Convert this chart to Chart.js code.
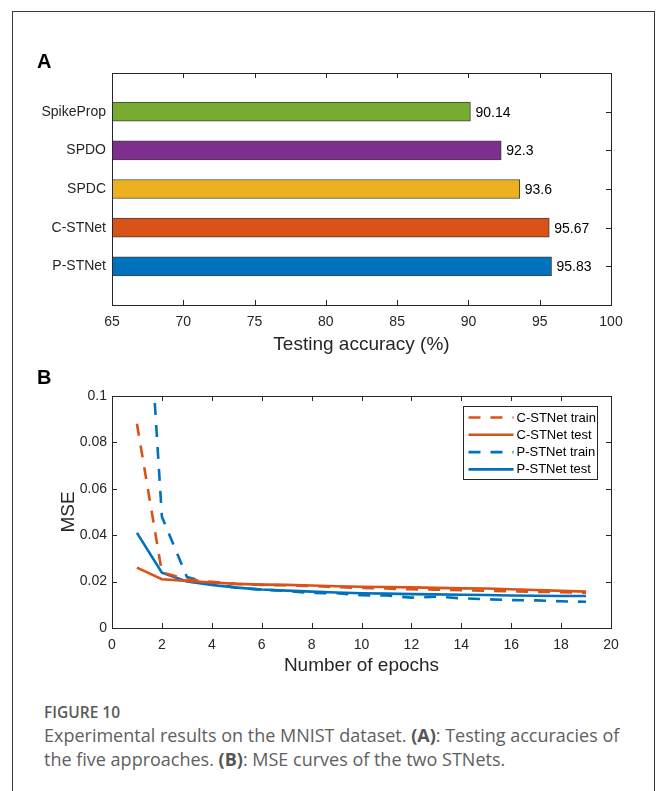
<!DOCTYPE html>
<html>
<head>
<meta charset="utf-8">
<script src="https://cdn.jsdelivr.net/npm/chart.js@4.4.1/dist/chart.umd.min.js"></script>
<style>
  html, body { margin: 0; padding: 0; background: #fff; }
  body { width: 658px; height: 791px; position: relative; overflow: hidden; }
  #frame { position: absolute; left: 12px; top: 11px; width: 643px; height: 800px; border: 1px solid #3a3a3a; box-sizing: border-box; }
  canvas { position: absolute; left: 0; }
  #cA { top: 0; }
  #cB { top: 360px; }
  .panel { position: absolute; left: 37px; font: bold 20px "Liberation Sans", Arial, sans-serif; color: #000; }
  #figno { position: absolute; left: 44px; top: 701px; font: 600 15.5px "Open Sans", sans-serif; color: #5a5a5a; }
  #cap { position: absolute; left: 44px; top: 723px; width: 590px; font: 400 18px/24px "Open Sans", sans-serif; color: #606060; }
  #cap b { font-weight: 700; color: #555; }
</style>
</head>
<body>
<div id="frame"></div>
<canvas id="cA" width="658" height="360"></canvas>
<canvas id="cB" width="658" height="320"></canvas>
<div class="panel" style="top:50px">A</div>
<div class="panel" style="top:366px">B</div>
<div id="figno">FIGURE 10</div>
<div id="cap">Experimental results on the MNIST dataset. <b>(A)</b>: Testing accuracies of the five approaches. <b>(B)</b>: MSE curves of the two STNets.</div>
<script>
// ---- Panel A data ----
const methods = ['SpikeProp', 'SPDO', 'SPDC', 'C-STNet', 'P-STNet'];
const accuracy = [90.14, 92.3, 93.6, 95.67, 95.83];
const methodColors = ['#77AC30', '#7E2F8E', '#EDB120', '#D95319', '#0072BD'];

// ---- Panel B data ----
const epochs = [1, 2, 3, 4, 5, 6, 7, 8, 9, 10, 11, 12, 13, 14, 15, 16, 17, 18, 19];
const cTrain = [0.088, 0.024, 0.021, 0.0199, 0.019, 0.0186, 0.0184, 0.0181, 0.0176, 0.0173, 0.017, 0.0167, 0.0165, 0.0163, 0.016, 0.0158, 0.0156, 0.0154, 0.0152];
const cTest  = [0.026, 0.021, 0.0203, 0.0196, 0.019, 0.0187, 0.0186, 0.0183, 0.018, 0.0178, 0.0177, 0.0175, 0.0173, 0.0171, 0.017, 0.0167, 0.0164, 0.016, 0.0157];
const pTrain = [0.22, 0.048, 0.022, 0.019, 0.0174, 0.0165, 0.016, 0.0151, 0.015, 0.0141, 0.014, 0.0131, 0.0135, 0.0128, 0.0124, 0.012, 0.0119, 0.0115, 0.0113];
const pTest  = [0.041, 0.0238, 0.02, 0.0185, 0.0174, 0.0166, 0.0161, 0.0157, 0.0153, 0.015, 0.0148, 0.0146, 0.0145, 0.0143, 0.0142, 0.014, 0.0139, 0.0138, 0.0138];
const seriesNames = ['C-STNet train', 'C-STNet test', 'P-STNet train', 'P-STNet test'];

const FONT = '"Liberation Sans", Arial, sans-serif';
const AX = '#262626';
const DASH = [12, 10];

// MATLAB-like box with inward ticks
const boxPlugin = {
  id: 'matlabBox',
  beforeDatasetsDraw(chart) {
    const { ctx, chartArea: a } = chart;
    const xs = chart.scales.x, ys = chart.scales.y;
    const L = 5;
    ctx.save();
    ctx.strokeStyle = AX;
    ctx.lineWidth = 1;
    ctx.beginPath();
    xs.ticks.forEach((t, i) => {
      const px = Math.round(xs.getPixelForTick(i)) + 0.5;
      ctx.moveTo(px, a.bottom); ctx.lineTo(px, a.bottom - L);
      ctx.moveTo(px, a.top); ctx.lineTo(px, a.top + L);
    });
    ys.ticks.forEach((t, i) => {
      if (ys.type === 'category' && !chart.data.labels[t.value]) return;
      const py = Math.round(ys.getPixelForTick(i)) + 0.5;
      ctx.moveTo(a.left, py); ctx.lineTo(a.left + L, py);
      ctx.moveTo(a.right, py); ctx.lineTo(a.right - L, py);
    });
    ctx.stroke();
    ctx.restore();
  },
  afterDatasetsDraw(chart) {
    const { ctx, chartArea: a } = chart;
    ctx.save();
    ctx.strokeStyle = AX;
    ctx.lineWidth = 1;
    ctx.strokeRect(Math.round(a.left) + 0.5, Math.round(a.top) + 0.5, Math.round(a.right - a.left), Math.round(a.bottom - a.top));
    ctx.restore();
  }
};

// value labels at bar ends
const valueLabels = {
  id: 'valueLabels',
  afterDatasetsDraw(chart) {
    const { ctx } = chart;
    const meta = chart.getDatasetMeta(0);
    const data = chart.data.datasets[0].data;
    ctx.save();
    ctx.font = '14px ' + FONT;
    ctx.fillStyle = '#000';
    ctx.textAlign = 'left';
    ctx.textBaseline = 'middle';
    meta.data.forEach((el, i) => {
      if (data[i] == null) return;
      ctx.fillText(String(data[i]), el.x + 5, el.y + 1);
    });
    ctx.restore();
  }
};

// legend inside axes (top-right)
const innerLegend = {
  id: 'innerLegend',
  afterDatasetsDraw(chart) {
    const { ctx, chartArea: a } = chart;
    const w = 134, h = 73;
    const x0 = Math.round(a.right - 14 - w) + 0.5, y0 = Math.round(a.top + 10) + 0.5;
    ctx.save();
    ctx.fillStyle = '#fff';
    ctx.fillRect(x0, y0, w, h);
    ctx.strokeStyle = AX;
    ctx.lineWidth = 1;
    ctx.strokeRect(x0, y0, w, h);
    ctx.font = '13px ' + FONT;
    ctx.textBaseline = 'middle';
    ctx.textAlign = 'left';
    chart.data.datasets.forEach((ds, i) => {
      const yy = y0 + 11 + i * 17.3;
      ctx.strokeStyle = ds.borderColor;
      ctx.lineWidth = ds.borderWidth;
      ctx.setLineDash(ds.borderDash || []);
      ctx.beginPath();
      ctx.moveTo(x0 + 5, yy);
      ctx.lineTo(x0 + 50, yy);
      ctx.stroke();
      ctx.setLineDash([]);
      ctx.fillStyle = '#000';
      ctx.fillText(ds.label, x0 + 53, yy + 0.5);
    });
    ctx.restore();
  }
};

// ---- Chart A ----
const labelsA = [''].concat(methods, ['']);
const dataA = [null].concat(accuracy, [null]);
const colorsA = ['#fff'].concat(methodColors, ['#fff']);

new Chart(document.getElementById('cA'), {
  type: 'bar',
  data: {
    labels: labelsA,
    datasets: [{
      data: dataA,
      backgroundColor: colorsA,
      borderColor: 'rgba(30,30,30,0.85)',
      borderWidth: 1,
      borderSkipped: false,
      barThickness: 19
    }]
  },
  options: {
    indexAxis: 'y',
    responsive: false,
    animation: false,
    devicePixelRatio: 1,
    layout: { padding: { left: 0, right: 47, top: 73, bottom: 0 } },
    plugins: { legend: { display: false }, tooltip: { enabled: false } },
    scales: {
      x: {
        type: 'linear', min: 65, max: 100,
        ticks: { stepSize: 5, padding: 9, color: AX, font: { family: FONT, size: 14 } },
        grid: { display: false, drawTicks: false },
        border: { display: false },
        title: { display: true, text: 'Testing accuracy (%)', color: AX, font: { family: FONT, size: 19 }, padding: { top: 0, bottom: 4 } },
        afterFit(s) { s.height = 55; }
      },
      y: {
        type: 'category', offset: false,
        ticks: { autoSkip: false, padding: 6, color: AX, font: { family: FONT, size: 14 } },
        grid: { display: false, drawTicks: false, offset: false },
        border: { display: false },
        afterFit(s) { s.width = 112; }
      }
    }
  },
  plugins: [boxPlugin, valueLabels]
});

// ---- Chart B ----
const ORANGE = '#D95319', BLUE = '#0072BD';
const mk = (label, arr, color, dash) => ({
  label,
  data: epochs.map((e, i) => ({ x: e, y: arr[i] })),
  borderColor: color,
  backgroundColor: color,
  borderWidth: 2.6,
  borderDash: dash,
  pointRadius: 0,
  tension: 0,
  fill: false
});

new Chart(document.getElementById('cB'), {
  type: 'line',
  data: {
    datasets: [
      mk(seriesNames[0], cTrain, ORANGE, DASH),
      mk(seriesNames[1], cTest, ORANGE, []),
      mk(seriesNames[2], pTrain, BLUE, DASH),
      mk(seriesNames[3], pTest, BLUE, [])
    ]
  },
  options: {
    responsive: false,
    animation: false,
    devicePixelRatio: 1,
    layout: { padding: { left: 0, right: 47, top: 36, bottom: 0 } },
    plugins: { legend: { display: false }, tooltip: { enabled: false } },
    scales: {
      x: {
        type: 'linear', min: 0, max: 20,
        ticks: { stepSize: 2, padding: 9, color: AX, font: { family: FONT, size: 14 } },
        grid: { display: false, drawTicks: false },
        border: { display: false },
        title: { display: true, text: 'Number of epochs', color: AX, font: { family: FONT, size: 19 }, padding: { top: 0, bottom: 3 } },
        afterFit(s) { s.height = 52; }
      },
      y: {
        type: 'linear', min: 0, max: 0.1,
        ticks: { stepSize: 0.02, padding: 5, color: AX, font: { family: FONT, size: 14 },
          callback: v => String(Number(v.toFixed(2))) },
        grid: { display: false, drawTicks: false },
        border: { display: false },
        title: { display: true, text: 'MSE', color: AX, font: { family: FONT, size: 19 }, padding: { top: 57, bottom: 0 } },
        afterFit(s) { s.width = 112; }
      }
    }
  },
  plugins: [boxPlugin, innerLegend]
});
</script>
</body>
</html>
